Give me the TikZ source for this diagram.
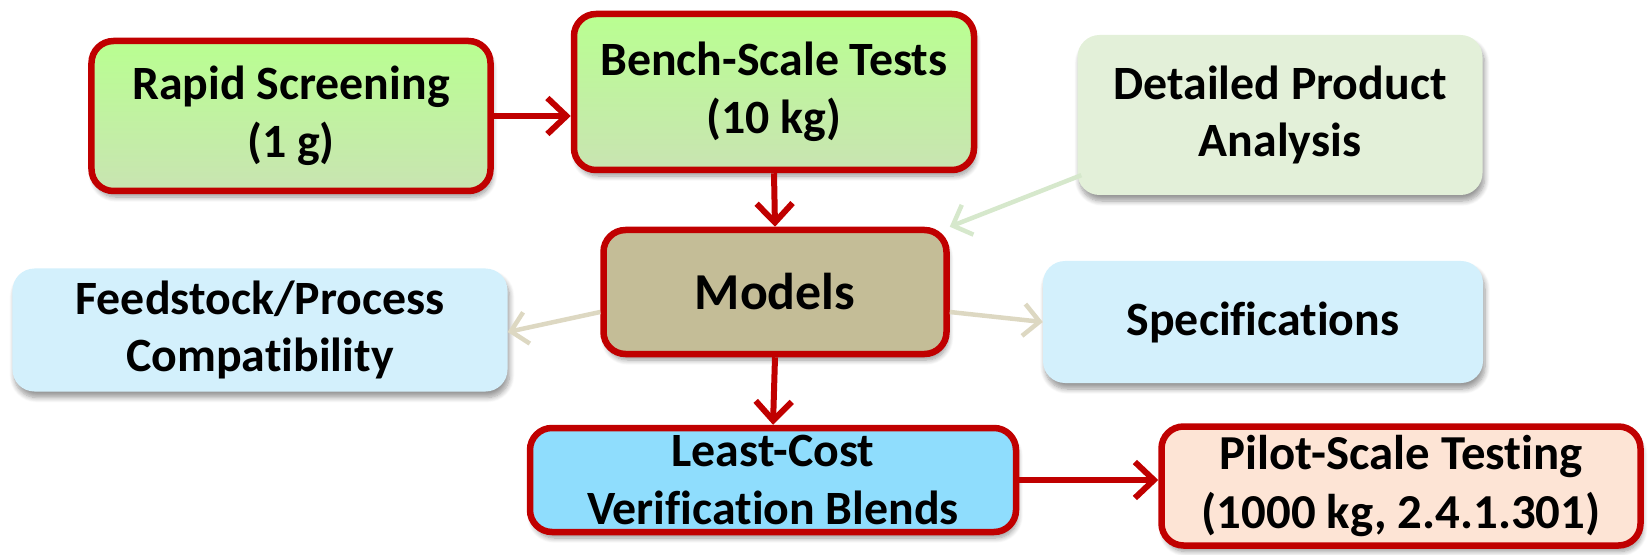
\documentclass[tikz,border=0pt]{standalone}
\usepackage{fontspec}
\setmainfont[RawFeature={-liga,-clig,-calt,-dlig}]{Carlito}
\usetikzlibrary{arrows.meta,shadows.blur}

\definecolor{redline}{HTML}{C00000}
\definecolor{greentop}{HTML}{B9FF91}
\definecolor{greenbot}{HTML}{C9E4B2}
\definecolor{palegreen}{HTML}{E3F0D9}
\definecolor{tanfill}{HTML}{C4BD97}
\definecolor{paleblue}{HTML}{D3F0FC}
\definecolor{midblue}{HTML}{8FDDFD}
\definecolor{peach}{HTML}{FDE4D5}
\definecolor{tanline}{HTML}{DDD8C2}
\definecolor{greenline}{HTML}{D6E8CC}

\tikzset{
  box/.style={rounded corners=22bp, align=center, inner sep=0pt,
    font=\fontsize{48}{58}\selectfont\bfseries,
    blur shadow={shadow xshift=2bp, shadow yshift=-6bp,
      shadow blur steps=8, shadow blur radius=5bp, shadow opacity=40}},
  redbox/.style={box, draw=redline, line width=6.5bp},
  greenbox/.style={redbox, top color=greentop, bottom color=greenbot},
  redarrow/.style={draw=redline, line width=6bp,
    -{Straight Barb[length=19bp,width=36bp]}},
  lightarrow/.style={line width=4.5bp,
    -{Straight Barb[length=16bp,width=32bp]}}
}

\begin{document}
\begin{tikzpicture}[x=1bp,y=-1bp]
\useasboundingbox (0,0) rectangle (1649,555);

% first row
\node[greenbox, minimum width=399bp, minimum height=150bp] (rapid) at (291,116)
  {Rapid Screening\\(1 g)};
\node[greenbox, minimum width=400bp, minimum height=156bp] (bench) at (774,92)
  {Bench-Scale Tests\\(10 kg)};
\node[box, fill=palegreen, minimum width=405bp, minimum height=160bp] (detail) at (1280,115)
  {Detailed Product\\Analysis};

% middle row
\node[redbox, fill=tanfill, minimum width=343bp, minimum height=124bp,
  font=\fontsize{52}{60}\selectfont\bfseries] (models) at (775,292) {Models};
\node[box, fill=paleblue, minimum width=495bp, minimum height=123bp] (feed) at (260,330)
  {Feedstock/Process\\Compatibility};
\node[box, fill=paleblue, minimum width=440bp, minimum height=122bp] (spec) at (1263,322)
  {Specifications};

% bottom row
\node[redbox, fill=midblue, minimum width=486bp, minimum height=104bp] (least) at (773,480)
  {Least-Cost\\Verification Blends};
\node[redbox, fill=peach, minimum width=479bp, minimum height=119bp,
  font=\fontsize{49}{59}\selectfont\bfseries] (pilot) at (1401,486)
  {Pilot-Scale Testing\\(1000 kg, 2.4.1.301)};

% main flow
\draw[redarrow] (rapid.east) -- (rapid.east -| bench.west);
\draw[redarrow] (bench.south) -- (models.north);
\draw[redarrow] (models.south) -- (least.north);
\draw[redarrow] (least.east) -- (least.east -| pilot.west);

% side links
\coordinate (dstart) at ([xshift=4bp,yshift=20bp]detail.south west);
\draw[lightarrow, greenline] (dstart) -- (models.north east);
\draw[lightarrow, tanline] ([yshift=-20bp]models.west) -- ([yshift=-2bp]feed.east);
\draw[lightarrow, tanline] ([yshift=-20bp]models.east) -- (spec.west);
\end{tikzpicture}
\end{document}
